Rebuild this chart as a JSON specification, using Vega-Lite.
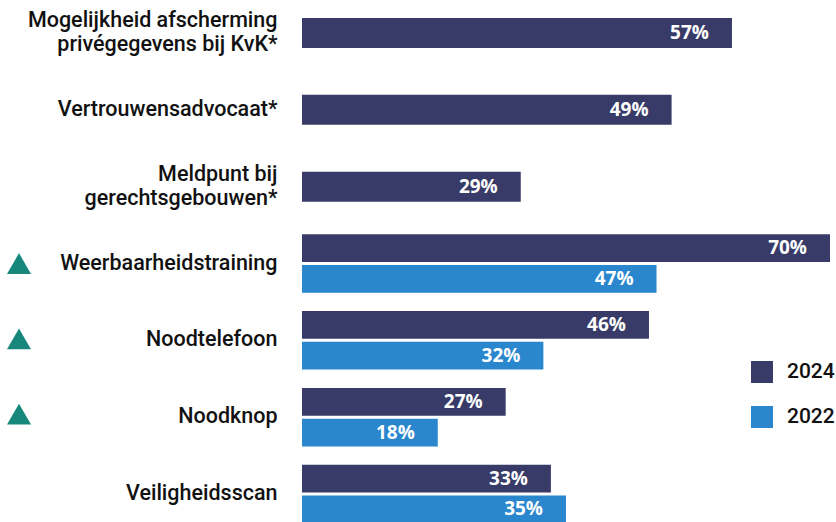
{
  "$schema": "https://vega.github.io/schema/vega-lite/v6.json",
  "padding": {"left": 7, "top": 0, "right": 5, "bottom": 0},
  "config": {"view": {"stroke": null}, "font": "Roboto"},
  "data": {"values": [
    {"category": "Mogelijkheid afscherming\nprivégegevens bij KvK*", "year": "2024", "value": 0.57, "sig": false},
    {"category": "Vertrouwensadvocaat*", "year": "2024", "value": 0.49, "sig": false},
    {"category": "Meldpunt bij\ngerechtsgebouwen*", "year": "2024", "value": 0.29, "sig": false},
    {"category": "Weerbaarheidstraining", "year": "2024", "value": 0.70, "sig": true},
    {"category": "Weerbaarheidstraining", "year": "2022", "value": 0.47, "sig": false},
    {"category": "Noodtelefoon", "year": "2024", "value": 0.46, "sig": true},
    {"category": "Noodtelefoon", "year": "2022", "value": 0.32, "sig": false},
    {"category": "Noodknop", "year": "2024", "value": 0.27, "sig": true},
    {"category": "Noodknop", "year": "2022", "value": 0.18, "sig": false},
    {"category": "Veiligheidsscan", "year": "2024", "value": 0.33, "sig": false},
    {"category": "Veiligheidsscan", "year": "2022", "value": 0.35, "sig": false}
  ]},
  "spacing": -4,
  "hconcat": [
    {
      "width": 24,
      "height": 527,
      "transform": [{"filter": "datum.sig"}],
      "mark": {"type": "point", "shape": "triangle-up", "filled": true, "opacity": 1, "size": 576, "color": "#16877A"},
      "encoding": {
        "y": {"field": "category", "type": "nominal", "axis": null,
          "scale": {"domain": ["Mogelijkheid afscherming\nprivégegevens bij KvK*", "Vertrouwensadvocaat*", "Meldpunt bij\ngerechtsgebouwen*", "Weerbaarheidstraining", "Noodtelefoon", "Noodknop", "Veiligheidsscan"], "paddingInner": 0.239, "paddingOuter": 0.049}}
      }
    },
    {
      "width": 528,
      "height": 527,
      "transform": [{"joinaggregate": [{"op": "count", "as": "n"}], "groupby": ["category"]}],
      "encoding": {
        "y": {"field": "category", "type": "nominal",
          "scale": {"domain": ["Mogelijkheid afscherming\nprivégegevens bij KvK*", "Vertrouwensadvocaat*", "Meldpunt bij\ngerechtsgebouwen*", "Weerbaarheidstraining", "Noodtelefoon", "Noodknop", "Veiligheidsscan"], "paddingInner": 0.239, "paddingOuter": 0.049},
          "axis": {"title": null, "domain": false, "ticks": false, "labelPadding": 25, "labelFont": "Roboto", "labelFontSize": 21.5, "labelFontWeight": 500, "labelColor": "#111111", "labelLimit": 400, "labelLineHeight": 24, "labelExpr": "split(datum.label, '\\n')",
            "labelOffset": {"condition": {"test": "indexof(datum.value, '\\n') >= 0", "value": -12}, "value": 0}}},
        "x": {"field": "value", "type": "quantitative", "scale": {"domain": [0, 0.7]}, "axis": null},
        "color": {"field": "year", "type": "nominal",
          "scale": {"domain": ["2024", "2022"], "range": ["#383B67", "#2A86CD"]},
          "legend": {"title": null, "orient": "none", "legendX": 744, "legendY": 361, "padding": 0, "symbolType": "square", "symbolSize": 484, "symbolStrokeWidth": 0, "symbolOpacity": 1, "labelFont": "Roboto", "labelFontSize": 21, "labelFontWeight": 500, "labelColor": "#111111", "labelOffset": 14, "rowPadding": 23}}
      },
      "layer": [
        {
          "transform": [{"filter": "datum.n == 1"}],
          "mark": {"type": "bar", "height": {"band": 0.513}}
        },
        {
          "transform": [{"filter": "datum.n == 2"}],
          "mark": {"type": "bar"},
          "encoding": {"yOffset": {"field": "year", "type": "nominal", "sort": ["2024", "2022"], "scale": {"paddingInner": 0.1}}}
        },
        {
          "transform": [{"filter": "datum.n == 1"}],
          "mark": {"type": "text", "align": "right", "baseline": "middle", "dx": -23, "font": "Open Sans", "fontWeight": "bold", "fontSize": 19, "color": "white"},
          "encoding": {"text": {"field": "value", "format": ".0%"}, "color": {"value": "white"}}
        },
        {
          "transform": [{"filter": "datum.n == 2"}],
          "mark": {"type": "text", "align": "right", "baseline": "middle", "dx": -23, "font": "Open Sans", "fontWeight": "bold", "fontSize": 19, "color": "white"},
          "encoding": {"text": {"field": "value", "format": ".0%"}, "color": {"value": "white"},
            "yOffset": {"field": "year", "type": "nominal", "sort": ["2024", "2022"], "scale": {"paddingInner": 0.1}}}
        }
      ]
    }
  ]
}
